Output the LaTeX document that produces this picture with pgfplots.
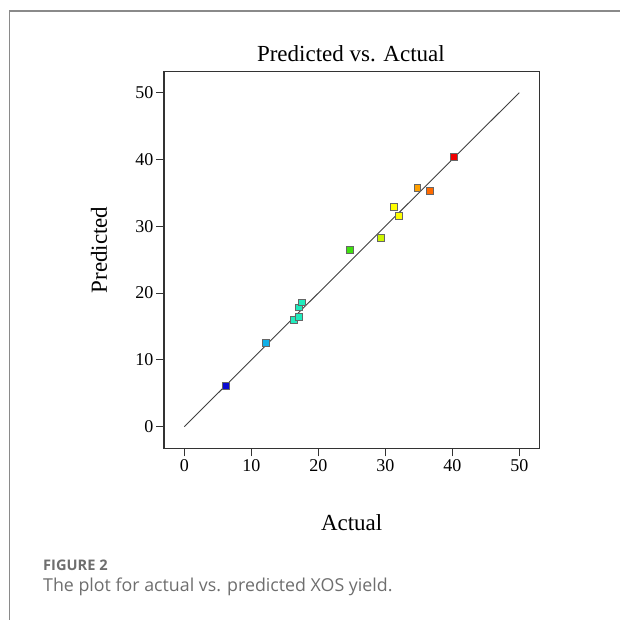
\documentclass[border=0pt]{standalone}
\usepackage{fontspec}
\setmainfont{Liberation Serif}
\newfontfamily\capfont{Open Sans}
\usepackage{pgfplots}
\pgfplotsset{compat=1.18}
\definecolor{cb}{RGB}{10,10,210}
\definecolor{clb}{RGB}{16,176,232}
\definecolor{ct}{RGB}{32,236,190}
\definecolor{cg}{RGB}{64,224,16}
\definecolor{cyg}{RGB}{204,245,0}
\definecolor{cy}{RGB}{255,255,0}
\definecolor{co}{RGB}{255,160,0}
\definecolor{cor}{RGB}{255,106,0}
\definecolor{cr}{RGB}{238,0,0}
\definecolor{framegray}{RGB}{138,138,138}
\definecolor{capgray}{RGB}{110,110,110}
\begin{document}
\begin{tikzpicture}[x=1pt,y=1pt]
\useasboundingbox (0,0) rectangle (619,620);
\draw[color=framegray, line width=1.6pt] (9.3,-2) -- (9.3,609) -- (621,609);
\begin{axis}[
  at={(164pt,171.7pt)}, anchor=south west,
  scale only axis, width=375.3pt, height=376.6pt,
  xmin=-3.03, xmax=52.99, ymin=-3.23, ymax=53.14,
  xtick={0,10,20,30,40,50}, ytick={0,10,20,30,40,50},
  tick align=outside, major tick length=8pt, tick pos=left,
  axis line style={line width=1.1pt, color=black!80},
  tick style={line width=1pt, color=black!80},
  tick label style={font=\fontsize{18}{20}\selectfont},
  /pgf/number format/assume math mode=true,
  yticklabel style={xshift=1pt},
  title={Predicted vs. Actual},
  title style={font=\fontsize{23}{26}\selectfont, at={(axis description cs:0.498,1.031)}, anchor=center},
  xlabel={Actual},
  xlabel style={font=\fontsize{23}{26}\selectfont, at={(axis description cs:0.5,-0.198)}, anchor=center},
  ylabel={Predicted},
  ylabel style={font=\fontsize{23}{26}\selectfont, at={(axis description cs:-0.173,0.5266)}, anchor=center, rotate=0},
  clip=false,
]
\addplot[color=black!75, line width=0.9pt] coordinates {(0,0) (50,50)};
\addplot[scatter, only marks, scatter src=explicit symbolic, mark size=3.4pt,
  scatter/classes={
    b={mark=square*, draw=black!60, fill=cb, line width=0.8pt},
    lb={mark=square*, draw=black!60, fill=clb, line width=0.8pt},
    t={mark=square*, draw=black!60, fill=ct, line width=0.8pt},
    g={mark=square*, draw=black!60, fill=cg, line width=0.8pt},
    yg={mark=square*, draw=black!60, fill=cyg, line width=0.8pt},
    y={mark=square*, draw=black!60, fill=cy, line width=0.8pt},
    o={mark=square*, draw=black!60, fill=co, line width=0.8pt},
    or={mark=square*, draw=black!60, fill=cor, line width=0.8pt},
    r={mark=square*, draw=black!60, fill=cr, line width=0.8pt}}]
  table[meta=label] {
x y label
6.22 6.05 b
12.15 12.60 lb
16.37 15.94 t
17.07 16.38 t
17.12 17.87 t
17.57 18.62 t
24.69 26.45 g
29.34 28.25 yg
31.34 32.86 y
32.04 31.50 y
34.80 35.69 o
36.67 35.28 or
40.21 40.42 r
};
\end{axis}
\node[anchor=west, text=capgray, inner sep=0pt] at (43,55) {\capfont\bfseries\fontsize{14.6}{18}\selectfont FIGURE 2};
\node[anchor=west, text=capgray, inner sep=0pt] at (43,33) {\capfont\fontsize{17.8}{20}\selectfont The plot for actual vs. predicted XOS yield.};
\end{tikzpicture}
\end{document}
